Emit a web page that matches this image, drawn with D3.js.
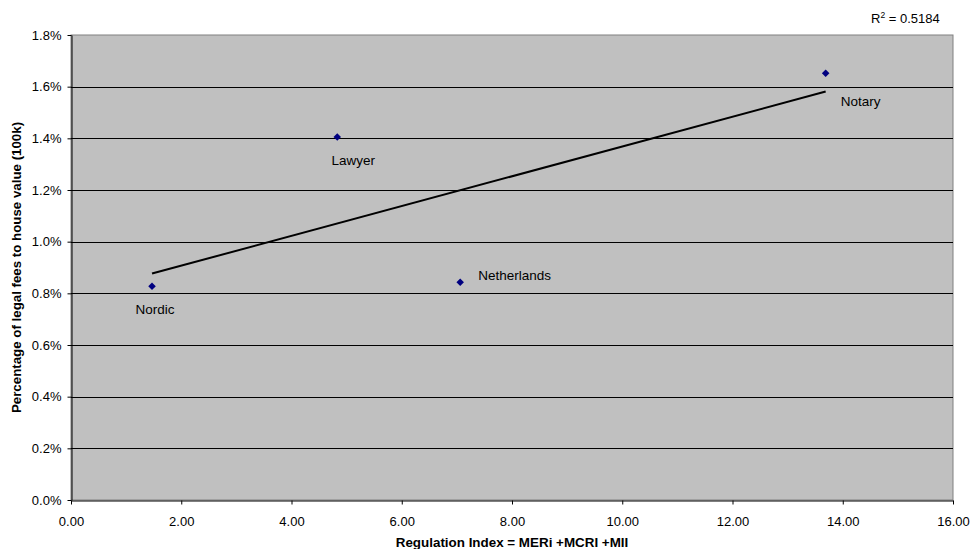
<!DOCTYPE html>
<html>
<head>
<meta charset="utf-8">
<script src="https://cdn.jsdelivr.net/npm/d3@7"></script>
<style>
  html, body { margin: 0; padding: 0; background: #ffffff; }
  svg { display: block; }
  text { font-family: "Liberation Sans", Arial, sans-serif; fill: #000; }
</style>
</head>
<body>
<svg id="chart" width="973" height="549"></svg>
<script>
// ---- data ----
const categories = ["Nordic", "Lawyer", "Netherlands", "Notary"];
const regulationIndex = [1.47, 4.83, 7.06, 13.69];
const feePercent = [0.827, 1.405, 0.843, 1.652];
const xTicks = [0, 2, 4, 6, 8, 10, 12, 14, 16];
const yTicks = [0, 0.2, 0.4, 0.6, 0.8, 1.0, 1.2, 1.4, 1.6, 1.8];
const r2Label = "0.5184";
const xTitle = "Regulation Index = MERi +MCRI +MII";
const yTitle = "Percentage of legal fees to house value (100k)";
// label layout (pixel offsets from the point), anchor
const labelLayout = [
  { dx: 3, dy: 28, anchor: "middle" },
  { dx: 16, dy: 28, anchor: "middle" },
  { dx: 18, dy: -2, anchor: "start" },
  { dx: 15, dy: 33, anchor: "start" }
];

// ---- layout ----
const svg = d3.select("#chart");
const m = { left: 71, right: 20, top: 35, bottom: 49 };
const W = 973, H = 549;
const x = d3.scaleLinear().domain([0, 16]).range([m.left, W - m.right]);
const y = d3.scaleLinear().domain([0, 1.8]).range([H - m.bottom, m.top]);

// plot background
svg.append("rect")
  .attr("x", x(0)).attr("y", y(1.8))
  .attr("width", x(16) - x(0)).attr("height", y(0) - y(1.8))
  .attr("fill", "#c0c0c0")
  .attr("stroke", "#808080").attr("stroke-width", 1);

// gridlines
svg.append("g").selectAll("line")
  .data(yTicks.filter(d => d > 0 && d < 1.8))
  .join("line")
  .attr("x1", x(0)).attr("x2", x(16))
  .attr("y1", d => Math.round(y(d)) + 0.5).attr("y2", d => Math.round(y(d)) + 0.5)
  .attr("stroke", "#000").attr("stroke-width", 1);

// axes
const xAxis = d3.axisBottom(x).tickValues(xTicks).tickFormat(d3.format(".2f"))
  .tickSizeInner(4).tickSizeOuter(0).tickPadding(12);
const gx = svg.append("g").attr("transform", `translate(0,${Math.round(y(0)) + 0.5})`).call(xAxis);
gx.select(".domain").attr("stroke", "#000");
gx.selectAll("text").attr("font-size", 13).attr("font-family", "Liberation Sans, Arial, sans-serif");

const yAxis = d3.axisLeft(y).tickValues(yTicks).tickFormat(d => d.toFixed(1) + "%")
  .tickSizeInner(4).tickSizeOuter(0).tickPadding(6);
const gy = svg.append("g").attr("transform", `translate(${Math.round(x(0)) + 0.5},0)`).call(yAxis);
gy.select(".domain").attr("stroke", "#000");
gy.selectAll("text").attr("font-size", 13).attr("font-family", "Liberation Sans, Arial, sans-serif");

// trendline (least squares)
const n = regulationIndex.length;
const mx = d3.mean(regulationIndex), my = d3.mean(feePercent);
let sxy = 0, sxx = 0;
for (let i = 0; i < n; i++) {
  sxy += (regulationIndex[i] - mx) * (feePercent[i] - my);
  sxx += (regulationIndex[i] - mx) ** 2;
}
const slope = sxy / sxx, icpt = my - slope * mx;
const xMin = d3.min(regulationIndex), xMax = d3.max(regulationIndex);
svg.append("line")
  .attr("x1", x(xMin)).attr("y1", y(icpt + slope * xMin))
  .attr("x2", x(xMax)).attr("y2", y(icpt + slope * xMax))
  .attr("stroke", "#000").attr("stroke-width", 2);

// points
const pts = categories.map((c, i) => ({ c, x: regulationIndex[i], y: feePercent[i], l: labelLayout[i] }));
svg.append("g").selectAll("path")
  .data(pts).join("path")
  .attr("d", d3.symbol(d3.symbolDiamond2, 36)())
  .attr("transform", d => `translate(${x(d.x)},${y(d.y)})`)
  .attr("fill", "#000080");

// labels
svg.append("g").selectAll("text")
  .data(pts).join("text")
  .attr("x", d => x(d.x) + d.l.dx)
  .attr("y", d => y(d.y) + d.l.dy)
  .attr("text-anchor", d => d.l.anchor)
  .attr("font-size", 13.5)
  .text(d => d.c);

// R² label
const r2 = svg.append("text").attr("x", 871).attr("y", 23).attr("font-size", 13);
r2.append("tspan").text("R");
r2.append("tspan").attr("font-size", 8.5).attr("dy", -5).text("2");
r2.append("tspan").attr("dy", 5).text(" = " + r2Label);

// axis titles
svg.append("text")
  .attr("x", (x(0) + x(16)) / 2).attr("y", 547)
  .attr("text-anchor", "middle").attr("font-size", 13.4).attr("font-weight", "bold")
  .text(xTitle);
svg.append("text")
  .attr("transform", `translate(21,${(y(0) + y(1.8)) / 2}) rotate(-90)`)
  .attr("text-anchor", "middle").attr("font-size", 13.3).attr("font-weight", "bold")
  .text(yTitle);
</script>
</body>
</html>
